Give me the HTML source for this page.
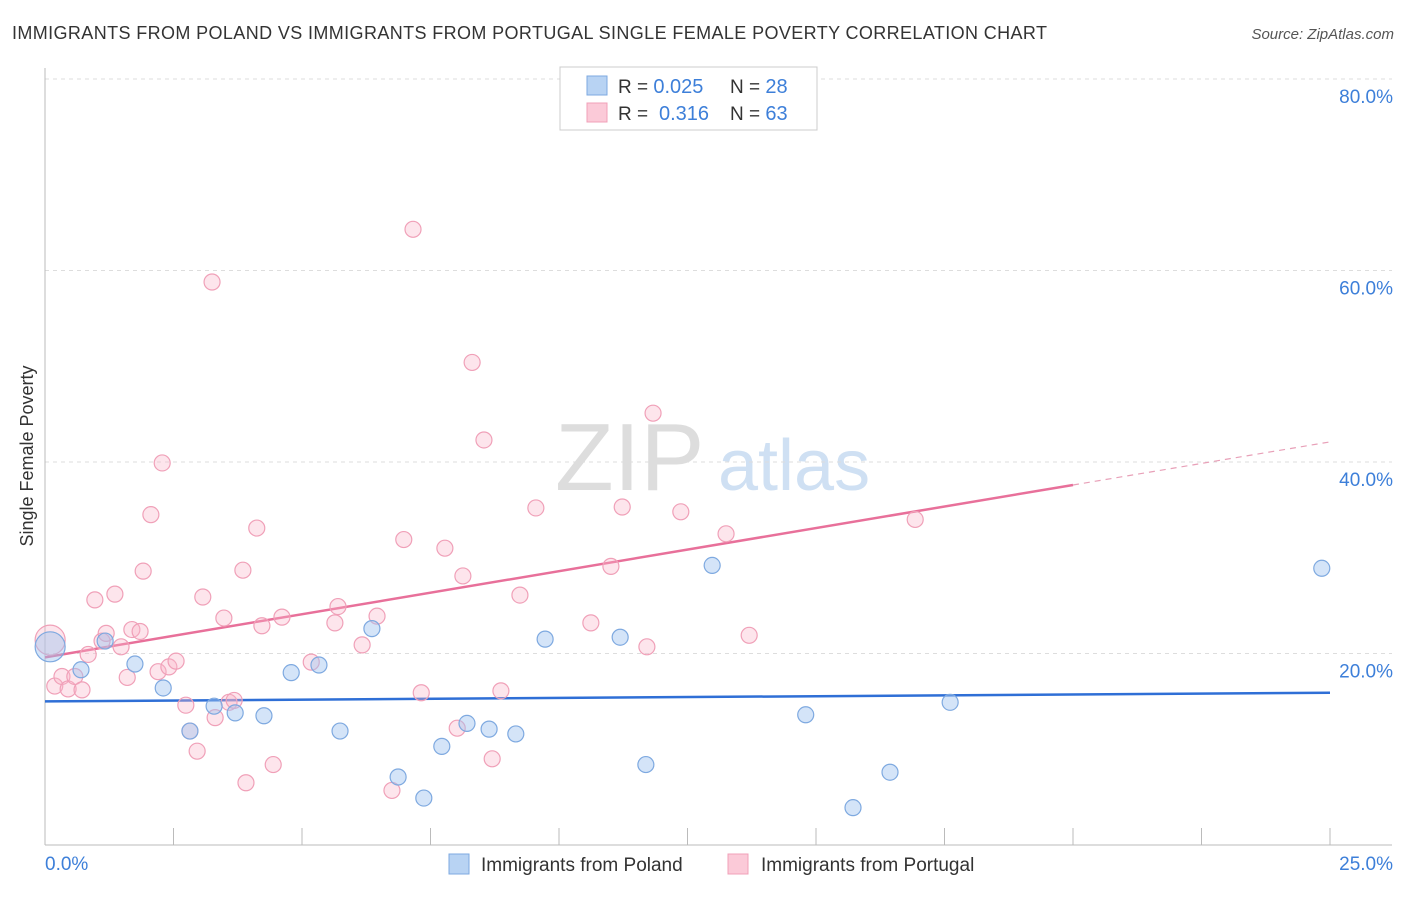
<!DOCTYPE html>
<html><head><meta charset="utf-8"><style>
body{margin:0;background:#fff;font-family:"Liberation Sans",sans-serif;}
svg text{font-family:"Liberation Sans",sans-serif;}
</style></head><body>
<svg id="chart" width="1406" height="892" xmlns="http://www.w3.org/2000/svg">
<text x="12" y="39" font-size="18" fill="#333" textLength="1035" lengthAdjust="spacing">IMMIGRANTS FROM POLAND VS IMMIGRANTS FROM PORTUGAL SINGLE FEMALE POVERTY CORRELATION CHART</text>
<text x="1394" y="39" font-size="15" fill="#555" font-style="italic" text-anchor="end">Source: ZipAtlas.com</text>
<text x="33" y="456" font-size="18" fill="#333" text-anchor="middle" transform="rotate(-90 33 456)">Single Female Poverty</text>
<text x="555" y="490" font-size="96" fill="#ddd" font-family="Liberation Serif">ZIP</text>
<text x="718" y="490" font-size="72" fill="#cfe0f3">atlas</text>
<g id="grid"></g><g id="axes"></g><g id="lines"></g><g id="pts"></g>
<g>
<rect x="560" y="67" width="257" height="63" fill="#fff" stroke="#ccc"/>
<rect x="587" y="76" width="20" height="19" fill="#b8d3f3" stroke="#7ea9e0"/>
<rect x="587" y="103" width="20" height="19" fill="#fbcad8" stroke="#f0a0b8"/>
<text x="618" y="93" font-size="19" fill="#333">R = <tspan fill="#3d7fd9" font-size="20">0.025</tspan><tspan x="730">N = </tspan><tspan fill="#3d7fd9" font-size="20">28</tspan></text>
<text x="618" y="120" font-size="19" fill="#333">R = <tspan fill="#3d7fd9" x="659" font-size="20">0.316</tspan><tspan x="730">N = </tspan><tspan fill="#3d7fd9" font-size="20">63</tspan></text>
</g>
<g>
<rect x="449" y="854" width="20" height="20" fill="#b8d3f3" stroke="#7ea9e0"/>
<text x="481" y="871" font-size="19" fill="#333">Immigrants from Poland</text>
<rect x="728" y="854" width="20" height="20" fill="#fbcad8" stroke="#f0a0b8"/>
<text x="761" y="871" font-size="19" fill="#333">Immigrants from Portugal</text>
</g>
</svg>
<script>
const polandX=[0.1,0.7,1.17,1.75,2.3,2.82,3.29,3.7,4.26,4.79,5.33,5.74,6.36,6.87,7.37,7.72,8.21,8.64,9.16,9.73,11.19,11.69,12.98,14.8,15.72,16.44,17.61,24.84];
const polandY=[20.7,18.3,21.3,18.9,16.4,11.9,14.5,13.8,13.5,18.0,18.8,11.9,22.6,7.1,4.9,10.3,12.7,12.1,11.6,21.5,21.7,8.4,29.2,13.6,3.9,7.6,14.9,28.9];
const portugalX=[0.1,0.19,0.33,0.45,0.58,0.72,0.84,0.97,1.11,1.19,1.36,1.48,1.6,1.69,1.85,1.91,2.06,2.2,2.28,2.41,2.55,2.74,2.82,2.96,3.07,3.25,3.31,3.48,3.58,3.68,3.85,3.91,4.12,4.22,4.44,4.61,5.18,5.64,5.7,6.17,6.46,6.75,6.98,7.16,7.32,7.78,8.02,8.13,8.31,8.54,8.7,8.87,9.24,9.55,10.62,11.01,11.23,11.71,11.83,12.37,13.25,13.7,16.93];
const portugalY=[21.4,16.6,17.6,16.3,17.6,16.2,19.9,25.6,21.3,22.1,26.2,20.7,17.5,22.5,22.3,28.6,34.5,18.1,39.9,18.6,19.2,14.6,11.9,9.8,25.9,58.8,13.3,23.7,14.9,15.1,28.7,6.5,33.1,22.9,8.4,23.8,19.1,23.2,24.9,20.9,23.9,5.7,31.9,64.3,15.9,31.0,12.2,28.1,50.4,42.3,9.0,16.1,26.1,35.2,23.2,29.1,35.3,20.7,45.1,34.8,32.5,21.9,34.0];
const yTicks=[20,40,60,80];
const yTickLabels=["20.0%","40.0%","60.0%","80.0%"];
const polandTrend=[15.0,15.9];
const portugalTrend=[19.6,42.1];
const NS="http://www.w3.org/2000/svg";
const X=v=>45+v/25*1285, Y=v=>845-v/20*191.5;
function mk(t,a,p){const e=document.createElementNS(NS,t);for(const k in a)e.setAttribute(k,a[k]);p.appendChild(e);return e;}
const grid=document.getElementById('grid'),axes=document.getElementById('axes'),lines=document.getElementById('lines'),pts=document.getElementById('pts');
yTicks.forEach((t,i)=>{
 const l=mk('line',{x1:45,x2:1392,y1:Y(t),y2:Y(t),stroke:'#ddd','stroke-dasharray':'4,4'},grid);
 
 
 const tx=mk('text',{x:1393,y:Y(t)+24,'font-size':19,fill:'#3d7fd9','text-anchor':'end'},axes);
 tx.textContent=yTickLabels[i];
 
 
});
mk('line',{x1:45,x2:45,y1:68,y2:845,stroke:'#bbb'},axes);
mk('line',{x1:45,x2:1392,y1:845,y2:845,stroke:'#bbb'},axes);
for(let i=0;i<=10;i++){const t=mk('line',{x1:X(i*2.5),x2:X(i*2.5),y1:828,y2:845,stroke:'#bbb'},axes);
 
 }
const x0=mk('text',{x:45,y:870,'font-size':19,fill:'#3d7fd9'},axes);x0.textContent='0.0%';


const x1=mk('text',{x:1393,y:870,'font-size':19,fill:'#3d7fd9','text-anchor':'end'},axes);x1.textContent='25.0%';


function dots(xs,ys,fill,stroke,name){xs.forEach((x,i)=>{const r=i===0?15:8;
 const c=mk('circle',{cx:X(x),cy:Y(ys[i]),r:r,fill:fill,stroke:stroke,'stroke-width':1.2},pts);
 
 });}
dots(portugalX,portugalY,'rgba(248,180,200,0.35)','#f0a0b8','portugal-point');
dots(polandX,polandY,'rgba(160,196,240,0.45)','#7ea9e0','poland-point');
const bl=mk('line',{x1:X(0),y1:Y(polandTrend[0]),x2:X(25),y2:Y(polandTrend[1]),stroke:'#2f6fd6','stroke-width':2.5},lines);


const pm=portugalTrend[0]+(portugalTrend[1]-portugalTrend[0])*0.8;
const pl=mk('line',{x1:X(0),y1:Y(portugalTrend[0]),x2:X(20),y2:Y(pm),stroke:'#e8709a','stroke-width':2.5},lines);


const pd=mk('line',{x1:X(20),y1:Y(pm),x2:X(25),y2:Y(portugalTrend[1]),stroke:'#e8a0b8','stroke-width':1.2,'stroke-dasharray':'6,5'},lines);


</script>
</body></html>
